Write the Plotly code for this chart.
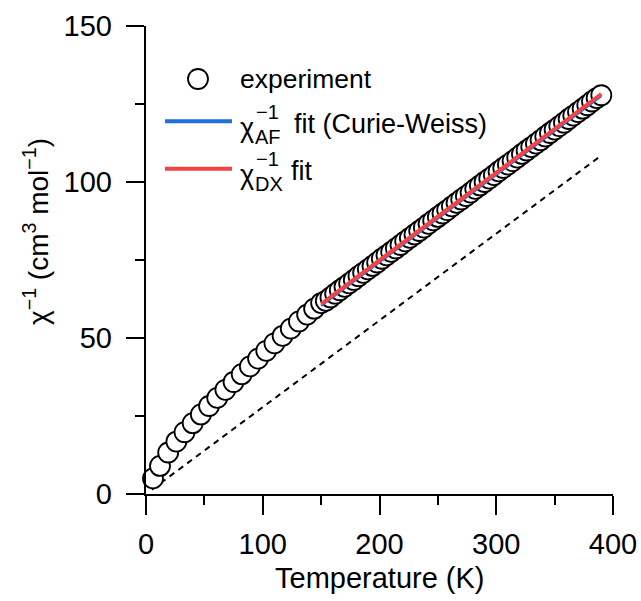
import plotly.graph_objects as go

# ---- data ----
temperature_K = [6, 12, 19, 26, 33, 40, 47, 54, 61, 68, 75, 82, 89, 96, 103, 110, 117, 124, 131, 138, 144, 150,
                 154, 158, 162, 166, 170, 174, 178, 182, 186, 190, 194, 198, 202, 206, 210, 214, 218, 222, 226,
                 230, 234, 238, 242, 246, 250, 254, 258, 262, 266, 270, 274, 278, 282, 286, 290, 294, 298, 302,
                 306, 310, 314, 318, 322, 326, 330, 334, 338, 342, 346, 350, 354, 358, 362, 366, 370, 374, 378,
                 382, 386, 390]
inv_chi = [5.0, 9.0, 13.3, 16.8, 19.8, 22.7, 25.5, 28.2, 30.8, 33.4, 35.9, 38.4, 40.9, 43.4, 45.9, 48.3, 50.7,
           53.0, 55.3, 57.5, 59.4, 61.2,
           61.9, 63.0, 64.2, 65.3, 66.4, 67.5, 68.6, 69.8, 70.9, 72.0, 73.1, 74.2, 75.4, 76.5, 77.6, 78.7, 79.8,
           81.0, 82.1, 83.2, 84.3, 85.4, 86.6, 87.7, 88.8, 89.9, 91.0, 92.2, 93.3, 94.4, 95.5, 96.6, 97.8, 98.9,
           100.0, 101.1, 102.2, 103.4, 104.5, 105.6, 106.7, 107.8, 109.0, 110.1, 111.2, 112.3, 113.4, 114.6,
           115.7, 116.8, 117.9, 119.0, 120.2, 121.3, 122.4, 123.5, 124.6, 125.8, 126.9, 127.8]

fit_af_T = [150, 390]
fit_af_chi = [60.3, 127.6]
fit_dx_T = [150, 390]
fit_dx_chi = [60.9, 128.2]
ref_T = [5, 390]
ref_chi = [1.4, 108.5]

x_ticks = [0, 100, 200, 300, 400]
y_ticks = [0, 50, 100, 150]

FONT = "Liberation Sans, Arial, Helvetica, sans-serif"
BLUE = "#1f6fdc"
RED = "#f04545"

fig = go.Figure()
fig.add_trace(go.Scatter(x=ref_T, y=ref_chi, mode="lines",
                         line=dict(color="black", width=2, dash="6px,5px"), showlegend=False))
fig.add_trace(go.Scatter(x=temperature_K, y=inv_chi, mode="markers", cliponaxis=False,
                         marker=dict(symbol="circle", size=20, color="white",
                                     line=dict(color="black", width=1.8)), showlegend=False))
fig.add_trace(go.Scatter(x=fit_af_T, y=fit_af_chi, mode="lines",
                         line=dict(color=BLUE, width=2.5), showlegend=False))
fig.add_trace(go.Scatter(x=fit_dx_T, y=fit_dx_chi, mode="lines",
                         line=dict(color=RED, width=4), showlegend=False))

# body margin removed by post_script, figure fills the window
OFF = 0
W, H = 641, 601
# plot area in screen pixels
L, R, T, B = 146, 613, 26, 494
def px(x):
    return (x - L) / (R - L)
def py(y):
    return (B - y) / (B - T)

shapes = [
    dict(type="circle", xref="paper", yref="paper", xsizemode="pixel", ysizemode="pixel",
         xanchor=px(198), yanchor=py(79), x0=-10, x1=10, y0=-10, y1=10,
         line=dict(color="black", width=1.8), fillcolor="white"),
    dict(type="line", xref="paper", yref="paper", x0=px(165), x1=px(232), y0=py(121.3), y1=py(121.3),
         line=dict(color=BLUE, width=4)),
    dict(type="line", xref="paper", yref="paper", x0=px(165), x1=px(232), y0=py(168.7), y1=py(168.7),
         line=dict(color=RED, width=4)),
]

def ann(text, x, y, size, xanchor="left", angle=0):
    return dict(text=text, x=px(x), y=py(y), xref="paper", yref="paper", xanchor=xanchor, yanchor="middle",
                textangle=angle, showarrow=False, font=dict(family=FONT, size=size, color="black"))

annotations = [
    ann("experiment", 238, 79, 26.5),
    ann("χ", 238, 128, 27),
    ann("−1", 254, 112, 20),
    ann("AF", 253, 137, 20),
    ann("fit (Curie-Weiss)", 292, 124, 27),
    ann("χ", 238, 175, 27),
    ann("−1", 254, 159, 20),
    ann("DX", 253, 184, 20),
    ann("fit", 289, 171, 27),
    ann("Temperature (K)", (L + R) / 2, 578, 29, xanchor="center"),
    ann("χ<sup>−1</sup> (cm<sup>3</sup> mol<sup>−1</sup>)", 36, 232, 28, xanchor="center", angle=-90),
]

fig.update_layout(
    width=W, height=H,
    margin=dict(l=L - OFF, r=W - (R - OFF), t=T - OFF, b=H - (B - OFF), autoexpand=False),
    paper_bgcolor="white", plot_bgcolor="white",
    font=dict(family=FONT, size=29, color="black"),
    shapes=shapes, annotations=annotations, showlegend=False,
)
fig.update_xaxes(range=[0, 400], tickvals=x_ticks, ticks="outside", ticklen=19, tickwidth=2.2,
                 tickcolor="black", showline=True, linecolor="black", linewidth=2.4, showgrid=False,
                 zeroline=False, tickfont=dict(size=29), ticklabelstandoff=4, automargin=False,
                 minor=dict(dtick=50, ticks="outside", ticklen=9, tickwidth=2.2, tickcolor="black", showgrid=False))
fig.update_yaxes(range=[0, 150], tickvals=y_ticks, ticks="outside", ticklen=18, tickwidth=2.2,
                 tickcolor="black", showline=True, linecolor="black", linewidth=2.4, showgrid=False,
                 zeroline=False, tickfont=dict(size=29), ticklabelstandoff=8, automargin=False,
                 minor=dict(dtick=25, ticks="outside", ticklen=9, tickwidth=2.2, tickcolor="black", showgrid=False))

fig.write_html("out.html", config={"displayModeBar": False},
               post_script="document.body.style.margin='0';document.body.style.overflow='hidden';")
